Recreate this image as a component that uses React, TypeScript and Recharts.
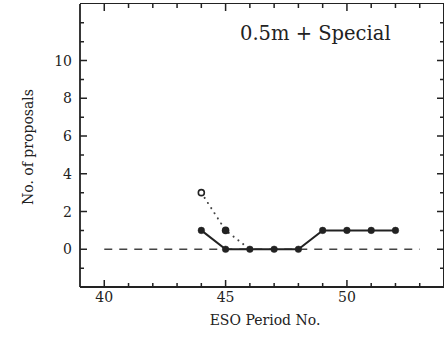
import React from "react";
import { ComposedChart, Line, XAxis, YAxis } from "recharts";

const periods = [44, 45, 46, 47, 48, 49, 50, 51, 52];
const accepted = [1, 0, 0, 0, 0, 1, 1, 1, 1];
const requestedPeriods = [44, 45, 46];
const requested = [3, 1, 0];
const baselinePeriods = [40, 53];
const baselineValues = [0, 0];

const xTicks = [40, 41, 42, 43, 44, 45, 46, 47, 48, 49, 50, 51, 52, 53];
const xMajor = [40, 45, 50];
const yTicks = [-1, 0, 1, 2, 3, 4, 5, 6, 7, 8, 9, 10, 11, 12];
const yMajor = [0, 2, 4, 6, 8, 10];

const acceptedData = periods.map((p, i) => ({ p, v: accepted[i] }));
const requestedData = requestedPeriods.map((p, i) => ({ p, v: requested[i], i }));
const baselineData = baselinePeriods.map((p, i) => ({ p, v: baselineValues[i] }));

const W = 446, H = 339;
const PL = 80, PR = 444, PT = 4, PB = 287;
const INK = "#222";
const FONT = "'DejaVu Serif', serif";

const XTick = (props: any) => {
  const { x, payload } = props;
  const v = payload.value;
  const major = xMajor.includes(v);
  const len = major ? 7 : 4;
  return (
    <g>
      <path d={`M${x},${PB}V${PB - len}M${x},${PT}V${PT + len}`} stroke={INK} strokeWidth={1.5} fill="none" />
      {major && (
        <text x={x} y={PB + 15} textAnchor="middle" fontFamily={FONT} fontSize={14} fill={INK}>
          {v}
        </text>
      )}
    </g>
  );
};

const YTick = (props: any) => {
  const { y, payload } = props;
  const v = payload.value;
  const major = yMajor.includes(v);
  const len = major ? 7 : 4;
  return (
    <g>
      <path d={`M${PL},${y}H${PL + len}M${PR},${y}H${PR - len}`} stroke={INK} strokeWidth={1.5} fill="none" />
      {major && (
        <text x={PL - 8} y={y + 5} textAnchor="end" fontFamily={FONT} fontSize={14} fill={INK}>
          {v}
        </text>
      )}
    </g>
  );
};

const ReqDot = (props: any) => {
  const { cx, cy, payload } = props;
  if (payload.i === 0)
    return <circle cx={cx} cy={cy} r={3} fill="#fff" stroke={INK} strokeWidth={1.6} />;
  if (payload.i === 1) return <circle cx={cx} cy={cy} r={3.8} fill={INK} stroke="none" />;
  return <g />;
};

const axisLine = { stroke: INK, strokeWidth: 1.8 };

export default function App() {
  return (
    <div style={{ position: "absolute", left: 0, top: 0, width: W, height: H, background: "#fff" }}>
      <ComposedChart width={W} height={H} margin={{ top: PT, right: W - PR, bottom: 0, left: 0 }}>
        <XAxis
          xAxisId="b"
          dataKey="p"
          type="number"
          domain={[39, 54]}
          ticks={xTicks}
          interval={0}
          allowDataOverflow
          height={H - PB}
          axisLine={axisLine}
          tickLine={false}
          tick={<XTick />}
        />
        <YAxis
          yAxisId="l"
          dataKey="v"
          type="number"
          domain={[-2, 13]}
          ticks={yTicks}
          interval={0}
          allowDataOverflow
          width={PL}
          axisLine={axisLine}
          tickLine={false}
          tick={<YTick />}
        />
        <Line
          xAxisId="b"
          yAxisId="l"
          data={baselineData}
          dataKey="v"
          stroke="#444"
          strokeWidth={1.4}
          strokeDasharray="8 7"
          dot={false}
          isAnimationActive={false}
        />
        <Line
          xAxisId="b"
          yAxisId="l"
          data={requestedData}
          dataKey="v"
          stroke="#444"
          strokeWidth={2}
          strokeDasharray="0.1 6"
          strokeLinecap="round"
          dot={<ReqDot />}
          isAnimationActive={false}
        />
        <Line
          xAxisId="b"
          yAxisId="l"
          data={acceptedData}
          dataKey="v"
          stroke={INK}
          strokeWidth={2}
          dot={{ r: 3.3, fill: INK, stroke: INK, strokeWidth: 0.5 }}
          isAnimationActive={false}
        />
      </ComposedChart>
      <div style={{ position: "absolute", left: PL, top: PT, width: PR - PL, height: PB - PT, borderTop: `1.8px solid ${INK}`, borderRight: `1.8px solid ${INK}`, boxSizing: "border-box", pointerEvents: "none", marginTop: -0.9 }} />
      <div style={{ position: "absolute", left: 240, top: 22, fontFamily: FONT, fontSize: 19.5, color: INK, whiteSpace: "nowrap", lineHeight: "24px" }}>
        0.5m + Special
      </div>
      <div style={{ position: "absolute", left: 185, width: 160, top: 311, textAlign: "center", fontFamily: FONT, fontSize: 14, color: INK, whiteSpace: "nowrap", lineHeight: "18px" }}>
        ESO Period No.
      </div>
      <div style={{ position: "absolute", left: 28 - 80, width: 160, top: 147 - 9, textAlign: "center", fontFamily: FONT, fontSize: 14, color: INK, whiteSpace: "nowrap", lineHeight: "18px", transform: "rotate(-90deg)" }}>
        No. of proposals
      </div>
    </div>
  );
}
